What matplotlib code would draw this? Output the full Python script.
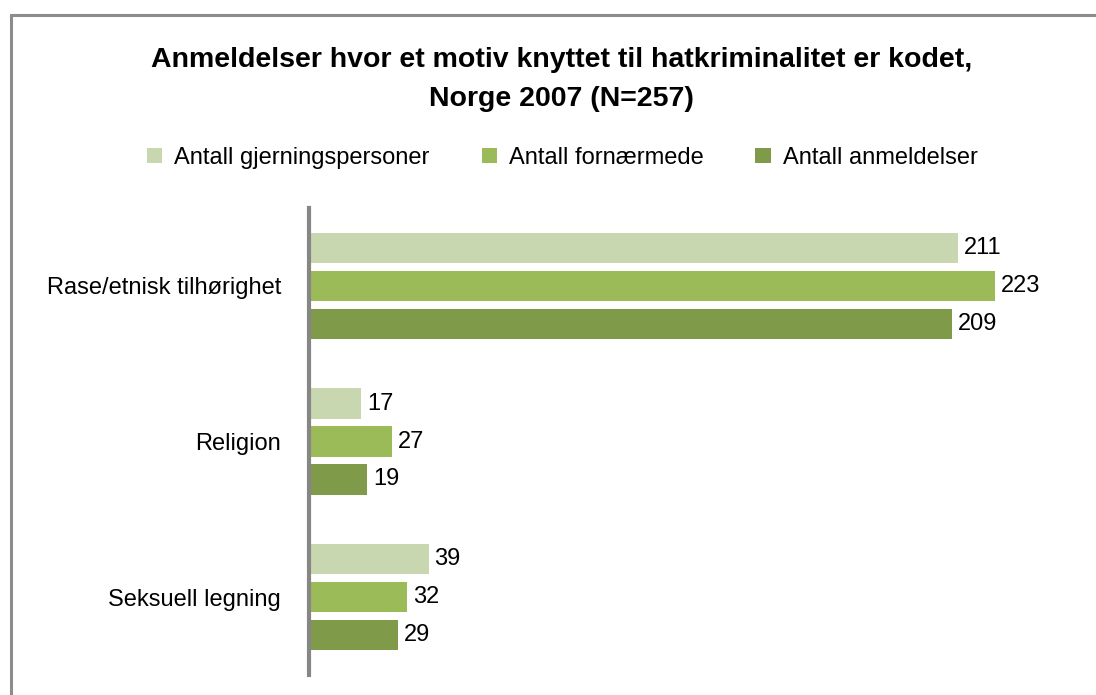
import matplotlib
matplotlib.use("Agg")
import matplotlib.pyplot as plt
from matplotlib.patches import Rectangle
import numpy as np

# ---- data -----------------------------------------------------------------
categories = ["Rase/etnisk tilhørighet", "Religion", "Seksuell legning"]
series_names = ["Antall gjerningspersoner", "Antall fornærmede", "Antall anmeldelser"]
gjerningspersoner = [211, 17, 39]
fornaermede = [223, 27, 32]
anmeldelser = [209, 19, 29]
series_values = [gjerningspersoner, fornaermede, anmeldelser]

title = "Anmeldelser hvor et motiv knyttet til hatkriminalitet er kodet,\nNorge 2007 (N=257)"

# ---- style ----------------------------------------------------------------
COLORS = ["#c8d7af", "#9bbb59", "#7f9a48"]
AXIS_GREY = "#868686"
FS = 17
plt.rcParams["font.family"] = ["Liberation Sans", "DejaVu Sans"]

fig = plt.figure(figsize=(10.96, 6.95), dpi=100)
ax = fig.add_axes([309 / 1096, 1 - 675 / 695, (1078 - 309) / 1096, (675 - 208) / 695])

# outer chart frame (left + top visible, right/bottom cut off)
fig.patches.append(Rectangle((10.5 / 1096, -0.1), 1.2, (1 - 14.5 / 695) + 0.1,
                             transform=fig.transFigure, fill=False,
                             edgecolor="#8c8c8c", lw=2.2))

y = np.arange(len(categories))
offsets = [-0.244, 0.0, 0.244]
height = 0.195
for vals, off, col, name in zip(series_values, offsets, COLORS, series_names):
    bars = ax.barh(y + off, vals, height=height, color=col, label=name)
    ax.bar_label(bars, labels=[str(v) for v in vals], padding=4, fontsize=FS,
                 color="black")

ax.set_xlim(0, 250)
ax.set_ylim(2.5, -0.5)
ax.set_yticks(y)
ax.set_yticklabels(categories, fontsize=FS)
ax.tick_params(axis="y", length=0, pad=20)
ax.set_xticks([])
for s in ("top", "right", "bottom"):
    ax.spines[s].set_visible(False)
ax.spines["left"].set_color(AXIS_GREY)
ax.spines["left"].set_linewidth(3)

fig.text(0.512, 0.886, title, ha="center", va="center", fontsize=20.5,
         fontweight="bold", linespacing=1.65)

handles, labels = ax.get_legend_handles_labels()
fig.legend(handles, labels, loc="center", bbox_to_anchor=(0.513, 0.773),
           ncol=3, frameon=False, fontsize=FS, handlelength=0.65,
           handleheight=0.65, handletextpad=0.5, columnspacing=2.2)

fig.savefig("out.png", dpi=100, facecolor="white")
